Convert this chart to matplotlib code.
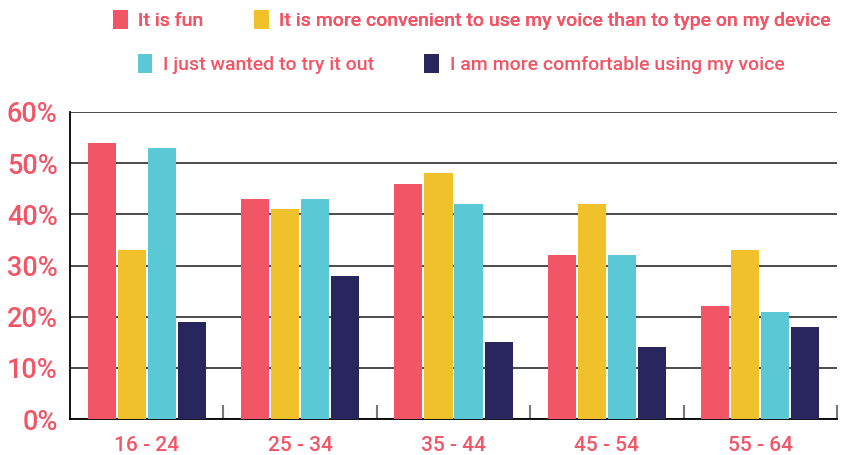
import numpy as np
import matplotlib
matplotlib.use('Agg')
from matplotlib import pyplot as plt
from matplotlib.patches import Patch

AGE_GROUPS = ['16 - 24', '25 - 34', '35 - 44', '45 - 54', '55 - 64']
SERIES_NAMES = [
    'It is fun',
    'It is more convenient to use my voice than to type on my device',
    'I just wanted to try it out',
    'I am more comfortable using my voice',
]
IT_IS_FUN = [54, 43, 46, 32, 22]
MORE_CONVENIENT = [33, 41, 48, 42, 33]
TRY_IT_OUT = [53, 43, 42, 32, 21]
MORE_COMFORTABLE = [19, 28, 15, 14, 18]
Y_TICKS = [0, 10, 20, 30, 40, 50, 60]

COLORS = ['#F25566', '#F0C12A', '#5BC8D6', '#29265E']
TEXT_COLOR = '#F25566'

plt.rcParams['font.family'] = ['Roboto', 'DejaVu Sans']

fig = plt.figure(figsize=(8.41, 4.55), dpi=100)
ax = fig.add_axes([70 / 841, 1 - 419 / 455, (837 - 70) / 841, (419 - 112) / 455])

values = [IT_IS_FUN, MORE_CONVENIENT, TRY_IT_OUT, MORE_COMFORTABLE]
x = np.arange(len(AGE_GROUPS))
slot = 0.196
bar_w = 0.183
for i, (vals, color) in enumerate(zip(values, COLORS)):
    ax.bar(x + (i - 1.5) * slot, vals, width=bar_w, color=color, zorder=3)

ax.set_xlim(-0.5, len(AGE_GROUPS) - 0.5)
ax.set_ylim(0, 60)
ax.set_yticks(Y_TICKS)
ax.set_yticklabels(['{}%'.format(t) for t in Y_TICKS])
ax.grid(axis='y', color='#1a1a1a', linewidth=1.1, zorder=0)
ax.set_axisbelow(True)

ax.set_xticks(x)
ax.set_xticklabels(AGE_GROUPS)
ax.set_xticks(np.arange(len(AGE_GROUPS)) + 0.5, minor=True)
ax.tick_params(axis='x', which='major', length=0, pad=12,
               labelsize=15, labelcolor=TEXT_COLOR)
ax.tick_params(axis='x', which='minor', direction='in', length=10,
               width=1.5, color='#777777')
ax.tick_params(axis='y', length=0, pad=9, labelsize=19.5, labelcolor=TEXT_COLOR)
for lab in ax.get_xticklabels() + ax.get_yticklabels():
    lab.set_fontweight('medium')

for side in ['top', 'right']:
    ax.spines[side].set_visible(False)
for side in ['left', 'bottom']:
    ax.spines[side].set_color('black')
    ax.spines[side].set_linewidth(1.3)

handles = [Patch(facecolor=c, edgecolor='none') for c in COLORS]
legend_kw = dict(ncol=2, loc='center', frameon=False,
                 prop={'size': 14, 'weight': 'medium'}, labelcolor=TEXT_COLOR,
                 handlelength=0.75, handleheight=1.1, handletextpad=0.55,
                 columnspacing=2.6)
leg1 = fig.legend(handles[:2], SERIES_NAMES[:2],
                  bbox_to_anchor=(472 / 841, 1 - 20 / 455), **legend_kw)
leg2 = fig.legend(handles[2:], SERIES_NAMES[2:],
                  bbox_to_anchor=(461 / 841, 1 - 64 / 455), **legend_kw)
fig.add_artist(leg1)

fig.savefig('out.png', dpi=100)
